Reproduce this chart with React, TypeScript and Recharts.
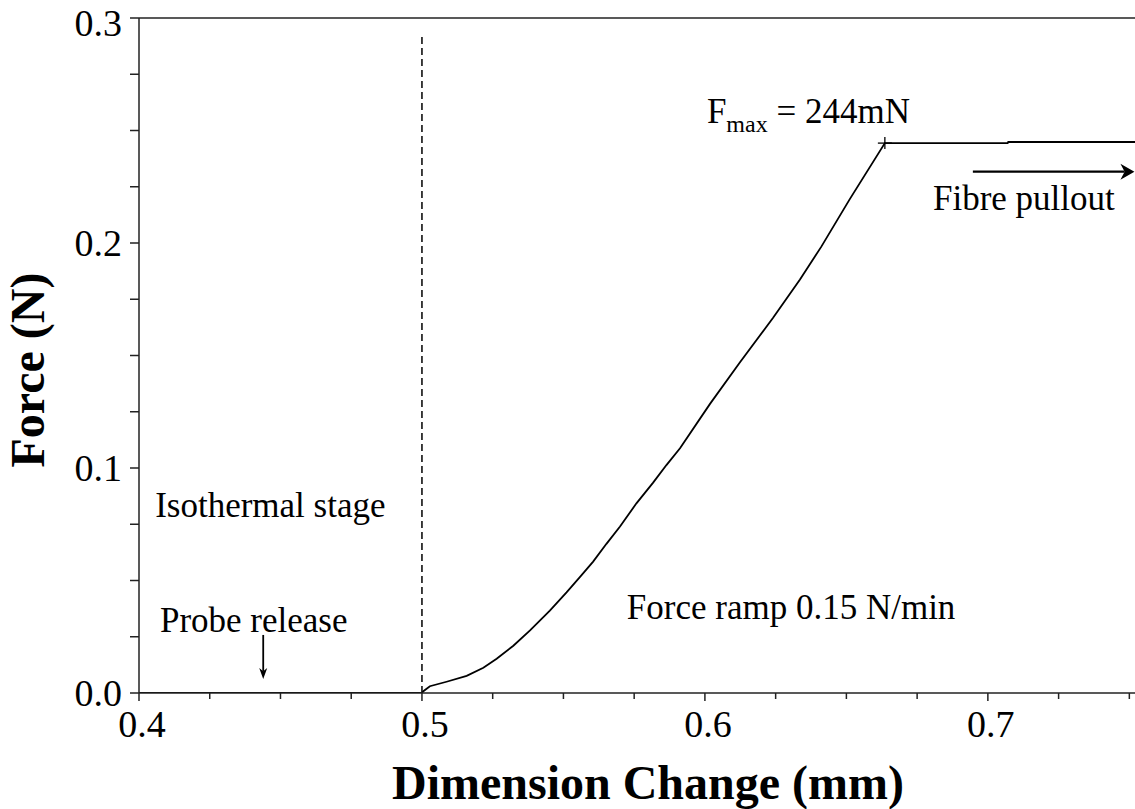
import { LineChart, Line, XAxis, YAxis, ReferenceLine, ReferenceDot, Label } from 'recharts';

// dimension change (mm) and force (N)
const dimension = [
  0.4, 0.5, 0.5005, 0.5028, 0.5087, 0.5158, 0.5217, 0.5264, 0.5323, 0.5382,
  0.5452, 0.5511, 0.5558, 0.5605, 0.5652, 0.57, 0.5758, 0.5817, 0.5864, 0.5912,
  0.6018, 0.6124, 0.6241, 0.6336, 0.6412, 0.6512, 0.6636, 0.707, 0.7072, 0.752,
];
const force = [
  0, 0, 0.0008, 0.003, 0.005, 0.0076, 0.0112, 0.0152, 0.021, 0.0278,
  0.0366, 0.0447, 0.0515, 0.0584, 0.0663, 0.074, 0.0843, 0.0935, 0.1013, 0.1088,
  0.1285, 0.147, 0.1668, 0.1838, 0.1985, 0.2195, 0.2444, 0.2444, 0.2449, 0.2449,
];
const peakIndex = 26;

const xTicks = [0.4, 0.425, 0.45, 0.475, 0.5, 0.525, 0.55, 0.575, 0.6, 0.625, 0.65, 0.675, 0.7, 0.725, 0.75];
const xTickLabels = ['0.4', '', '', '', '0.5', '', '', '', '0.6', '', '', '', '0.7', '', ''];
const yTicks = [0, 0.025, 0.05, 0.075, 0.1, 0.125, 0.15, 0.175, 0.2, 0.225, 0.25, 0.275, 0.3];
const yTickLabels = ['0.0', '', '', '', '0.1', '', '', '', '0.2', '', '', '', '0.3'];

const data = dimension.map((x, i) => ({ x, f: force[i] }));

const FONT = '"Liberation Serif", "Times New Roman", Times, serif';
const AXIS = '#222';

function labelFor(ticks: number[], labels: string[], v: number) {
  const i = ticks.findIndex((t) => Math.abs(t - v) < 1e-6);
  return i >= 0 ? labels[i] : '';
}

const XTick = (props: any) => {
  const { x, y, payload } = props;
  const text = labelFor(xTicks, xTickLabels, payload.value);
  return (
    <g>
      <line x1={x} y1={y} x2={x} y2={y + (text ? 8 : 6)} stroke={AXIS} strokeWidth={1.5} />
      {text && (
        <text x={x + 3} y={y + 44} textAnchor="middle" fontFamily={FONT} fontSize={38} fill="#000">
          {text}
        </text>
      )}
    </g>
  );
};

const YTick = (props: any) => {
  const { x, y, payload } = props;
  const text = labelFor(yTicks, yTickLabels, payload.value);
  const top = payload.value >= 0.3 - 1e-6;
  return (
    <g>
      <line x1={x} y1={y} x2={x - 9} y2={y} stroke={AXIS} strokeWidth={1.5} />
      {text && (
        <text x={x - 17} y={y + (top ? 18 : 13)} textAnchor="end" fontFamily={FONT} fontSize={38} fill="#000">
          {text}
        </text>
      )}
    </g>
  );
};

const note = (text: string) => (p: any) => (
  <text x={p.cx} y={p.cy} fontFamily={FONT} fontSize={35} fill="#000">
    {text}
  </text>
);

const arrow = (hl: number, hw: number, sw: number) => (p: any) => {
  const { x1, y1, x2, y2 } = p;
  const len = Math.hypot(x2 - x1, y2 - y1) || 1;
  const ux = (x2 - x1) / len;
  const uy = (y2 - y1) / len;
  const bx = x2 - ux * hl;
  const by = y2 - uy * hl;
  const nx = bx + ux * hl * 0.3;
  const ny = by + uy * hl * 0.3;
  return (
    <g>
      <line x1={x1} y1={y1} x2={nx} y2={ny} stroke="#000" strokeWidth={sw} />
      <polygon
        points={`${x2},${y2} ${bx - uy * hw},${by + ux * hw} ${nx},${ny} ${bx + uy * hw},${by - ux * hw}`}
        fill="#000"
      />
    </g>
  );
};

const PeakDot = (props: any) => {
  const { cx, cy, index } = props;
  if (index !== peakIndex) return <g key={index} />;
  return (
    <g key={index}>
      <line x1={cx - 7} y1={cy} x2={cx + 7} y2={cy} stroke="#000" strokeWidth={1.3} />
      <line x1={cx} y1={cy - 6} x2={cx} y2={cy + 6} stroke="#000" strokeWidth={1.3} />
    </g>
  );
};

export default function App() {
  return (
    <div style={{ position: 'absolute', left: 0, top: 0, background: '#fff' }}>
      <LineChart width={1135} height={809} data={data} margin={{ top: 18, right: 0, bottom: 0, left: 0 }}>
        <XAxis
          type="number"
          dataKey="x"
          domain={[0.4, 0.752]}
          ticks={xTicks}
          interval={0}
          allowDataOverflow
          height={116}
          tickSize={0}
          tickMargin={0}
          tickLine={false}
          tick={XTick}
          axisLine={{ stroke: AXIS, strokeWidth: 1.5 }}
        >
          <Label
            content={() => (
              <text x={392} y={799} fontFamily={FONT} fontSize={48} fontWeight="bold" fill="#000">
                Dimension Change (mm)
              </text>
            )}
          />
        </XAxis>
        <YAxis
          type="number"
          domain={[0, 0.3]}
          ticks={yTicks}
          interval={0}
          allowDataOverflow
          width={139}
          tickSize={0}
          tickMargin={0}
          tickLine={false}
          tick={YTick}
          axisLine={{ stroke: AXIS, strokeWidth: 1.5 }}
        >
          <Label
            content={() => (
              <text
                x={44}
                y={370}
                transform="rotate(-90, 44, 370)"
                textAnchor="middle"
                fontFamily={FONT}
                fontSize={48}
                fontWeight="bold"
                fill="#000"
              >
                Force (N)
              </text>
            )}
          />
        </YAxis>
        <ReferenceLine y={0.3} stroke={AXIS} strokeWidth={1.5} />
        <ReferenceLine
          segment={[{ x: 0.5, y: 0 }, { x: 0.5, y: 0.2924 }]}
          stroke="#000"
          strokeWidth={1.5}
          strokeDasharray="7 4"
        />
        <ReferenceLine segment={[{ x: 0.4439, y: 0.0258 }, { x: 0.4439, y: 0.0062 }]} shape={arrow(11, 4, 1.8)} />
        <ReferenceLine
          segment={[{ x: 0.6947, y: 0.2317 }, { x: 0.7518, y: 0.2317 }]}
          shape={arrow(14, 8, 2.2)}
          ifOverflow="visible"
        />
        <Line
          type="linear"
          dataKey="f"
          stroke="#000"
          strokeWidth={1.8}
          dot={PeakDot}
          activeDot={false}
          isAnimationActive={false}
        />
        <ReferenceDot x={0.4074} y={0.0271} r={0} shape={note('Probe release')} />
        <ReferenceDot x={0.4057} y={0.0782} r={0} shape={note('Isothermal stage')} />
        <ReferenceDot x={0.5724} y={0.0329} r={0} shape={note('Force ramp 0.15 N/min')} />
        <ReferenceDot x={0.6806} y={0.2147} r={0} shape={note('Fibre pullout')} />
        <ReferenceDot
          x={0.6007}
          y={0.2533}
          r={0}
          shape={(p: any) => (
            <text x={p.cx} y={p.cy} fontFamily={FONT} fontSize={35} fill="#000">
              F
              <tspan dy={9} fontSize={24}>max</tspan>
              <tspan dy={-9}> = 244mN</tspan>
            </text>
          )}
        />
      </LineChart>
    </div>
  );
}
